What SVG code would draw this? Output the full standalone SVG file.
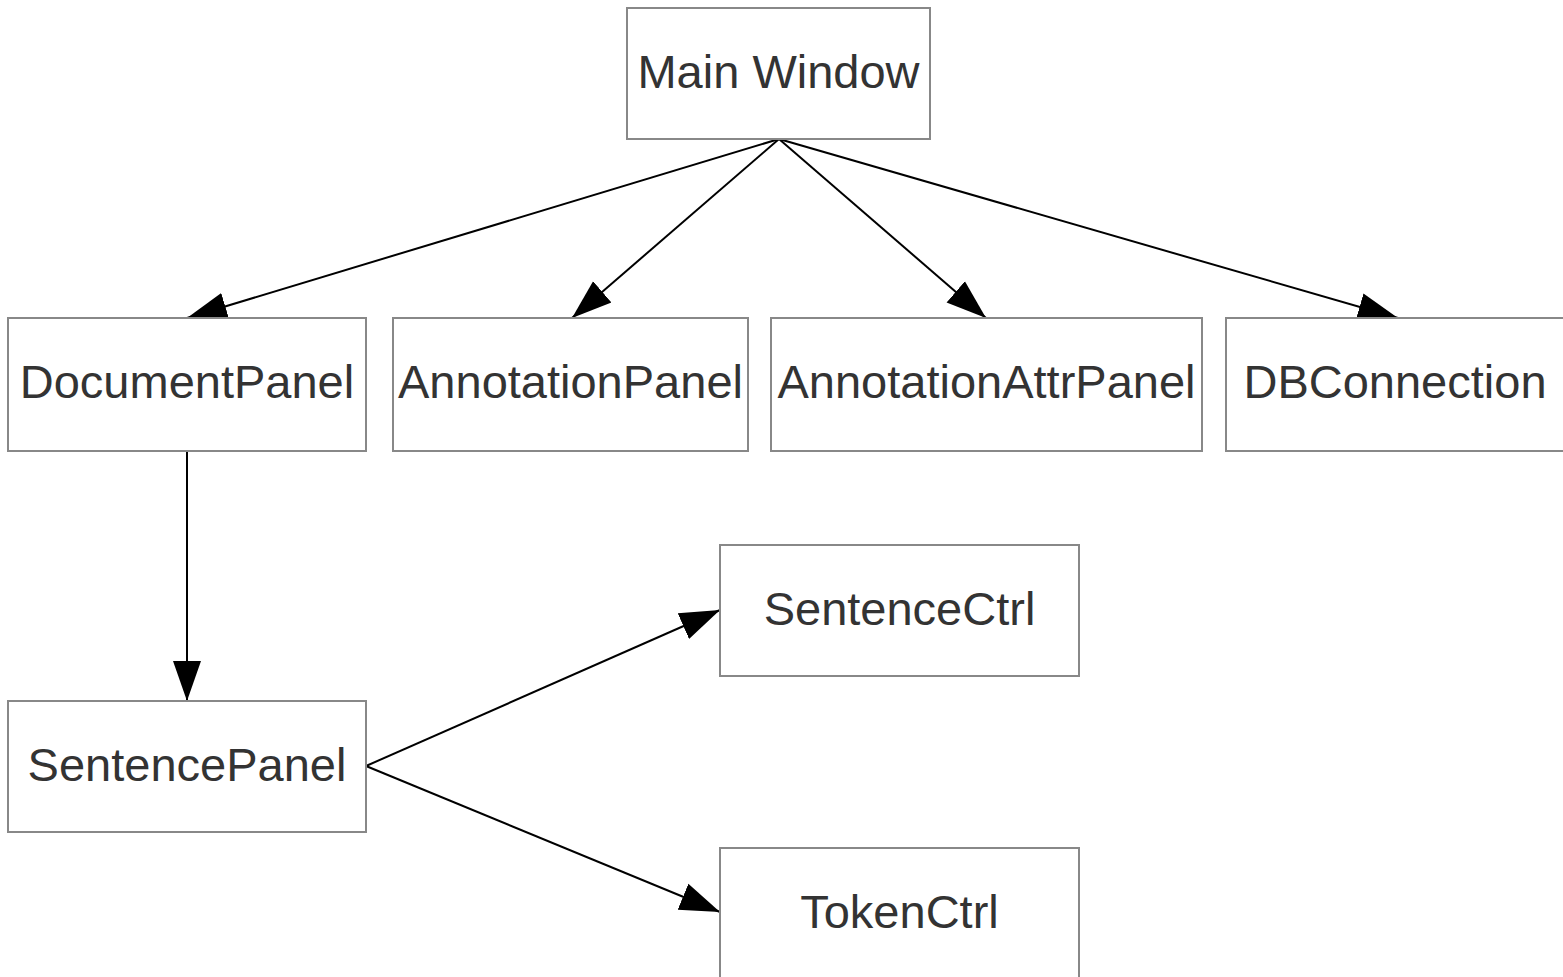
<svg xmlns="http://www.w3.org/2000/svg" width="1563" height="977" viewBox="0 0 1563 977">
<style>
.box{fill:#fff;stroke:#888;stroke-width:2}
.lbl{font-family:"Liberation Sans",Arial,sans-serif;font-size:47px;fill:#333;text-anchor:middle}
.edge{stroke:#000;stroke-width:2;fill:none;marker-end:url(#ah)}
</style>
<defs>
<marker id="ah" markerUnits="userSpaceOnUse" markerWidth="44" markerHeight="32" refX="40" refY="14" orient="auto" viewBox="0 0 44 28">
<path d="M0,0 L40,14 L0,28 Z" fill="#000"/>
</marker>
</defs>
<rect width="1563" height="977" fill="#fff"/>
<g id="connectors">
<line class="edge" x1="779" y1="139" x2="187" y2="318"/>
<line class="edge" x1="779" y1="139" x2="572" y2="318"/>
<line class="edge" x1="779" y1="139" x2="986" y2="318"/>
<line class="edge" x1="779" y1="139" x2="1398" y2="318"/>
<line class="edge" x1="187" y1="451" x2="187" y2="701"/>
<line class="edge" x1="366" y1="766" x2="720" y2="610"/>
<line class="edge" x1="366" y1="766" x2="720" y2="912"/>
</g>
<g id="main-window">
<rect class="box" x="627" y="8" width="303" height="131"/>
<text class="lbl" x="778.5" y="88">Main Window</text>
</g>
<g id="document-panel">
<rect class="box" x="8" y="318" width="358" height="133"/>
<text class="lbl" x="187" y="398">DocumentPanel</text>
</g>
<g id="annotation-panel">
<rect class="box" x="393" y="318" width="355" height="133"/>
<text class="lbl" x="570.5" y="398">AnnotationPanel</text>
</g>
<g id="annotation-attr-panel">
<rect class="box" x="771" y="318" width="431" height="133"/>
<text class="lbl" x="986.5" y="398">AnnotationAttrPanel</text>
</g>
<g id="db-connection">
<rect class="box" x="1226" y="318" width="340" height="133"/>
<text class="lbl" x="1395" y="398">DBConnection</text>
</g>
<g id="sentence-panel">
<rect class="box" x="8" y="701" width="358" height="131"/>
<text class="lbl" x="187" y="781">SentencePanel</text>
</g>
<g id="sentence-ctrl">
<rect class="box" x="720" y="545" width="359" height="131"/>
<text class="lbl" x="899.5" y="625">SentenceCtrl</text>
</g>
<g id="token-ctrl">
<rect class="box" x="720" y="848" width="359" height="133"/>
<text class="lbl" x="899.5" y="928">TokenCtrl</text>
</g>
</svg>
